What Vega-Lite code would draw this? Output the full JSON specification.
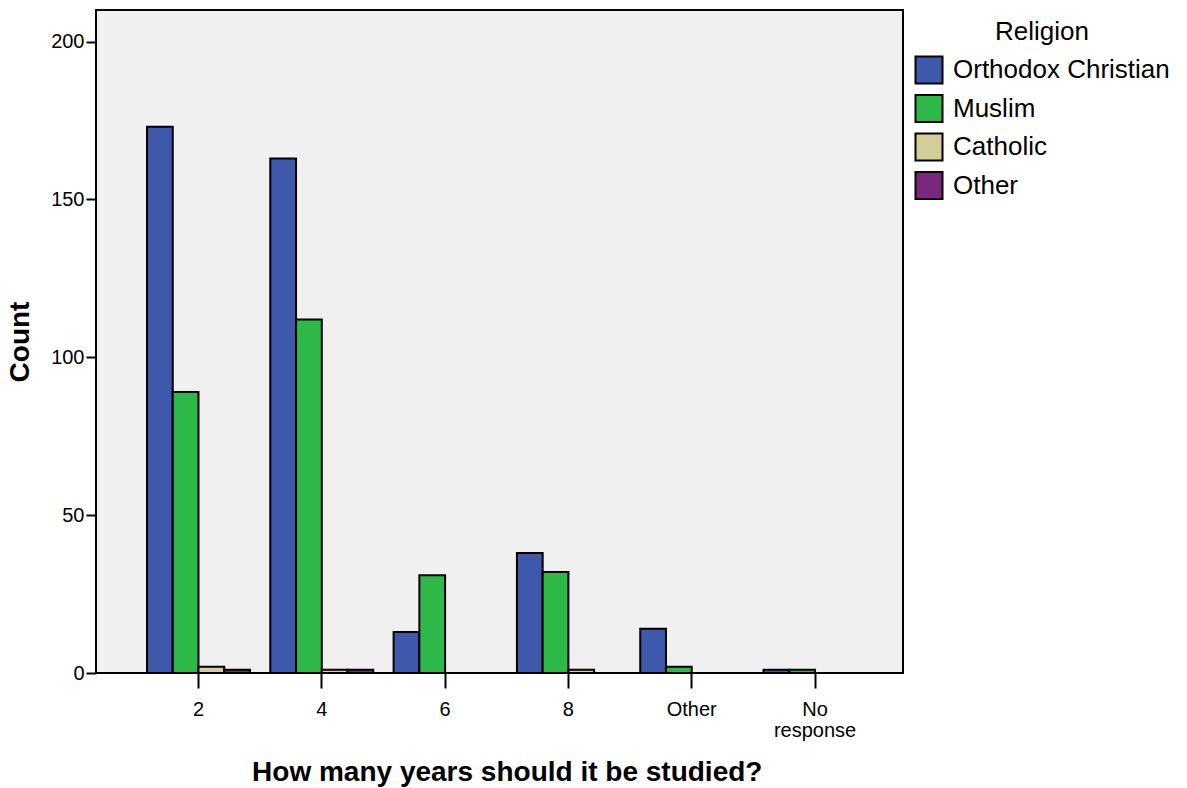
{
  "$schema": "https://vega.github.io/schema/vega-lite/v6.json",
  "width": 807,
  "height": 663,
  "autosize": {"type": "none"},
  "padding": {"left": 96, "top": 10, "right": 284, "bottom": 115},
  "background": "white",
  "config": {
    "font": "Liberation Sans",
    "view": {"fill": "#f0f0f0", "stroke": "black", "strokeWidth": 2}
  },
  "data": {
    "values": [
      {"years": "2", "religion": "Orthodox Christian", "count": 173},
      {"years": "2", "religion": "Muslim", "count": 89},
      {"years": "2", "religion": "Catholic", "count": 2},
      {"years": "2", "religion": "Other", "count": 1},
      {"years": "4", "religion": "Orthodox Christian", "count": 163},
      {"years": "4", "religion": "Muslim", "count": 112},
      {"years": "4", "religion": "Catholic", "count": 1},
      {"years": "4", "religion": "Other", "count": 1},
      {"years": "6", "religion": "Orthodox Christian", "count": 13},
      {"years": "6", "religion": "Muslim", "count": 31},
      {"years": "8", "religion": "Orthodox Christian", "count": 38},
      {"years": "8", "religion": "Muslim", "count": 32},
      {"years": "8", "religion": "Catholic", "count": 1},
      {"years": "Other", "religion": "Orthodox Christian", "count": 14},
      {"years": "Other", "religion": "Muslim", "count": 2},
      {"years": "No response", "religion": "Orthodox Christian", "count": 1},
      {"years": "No response", "religion": "Muslim", "count": 1}
    ]
  },
  "mark": {"type": "bar", "stroke": "black", "strokeWidth": 2, "opacity": 1},
  "encoding": {
    "x": {
      "field": "years",
      "type": "nominal",
      "sort": ["2", "4", "6", "8", "Other", "No response"],
      "scale": {"range": [51, 770.5], "paddingInner": 0.165, "paddingOuter": 0},
      "axis": {
        "title": "How many years should it be studied?",
        "titleFontSize": 28,
        "titleFontWeight": "bold",
        "titleColor": "black",
        "titlePadding": 18,
        "labelAngle": 0,
        "labelFontSize": 20,
        "labelColor": "black",
        "labelPadding": 11,
        "labelLineHeight": 21,
        "labelExpr": "datum.label == 'No response' ? ['No', 'response'] : datum.label",
        "tickSize": 15,
        "tickWidth": 2,
        "tickColor": "black",
        "domain": false
      }
    },
    "xOffset": {
      "field": "religion",
      "type": "nominal",
      "sort": ["Orthodox Christian", "Muslim", "Catholic", "Other"],
      "scale": {"domain": ["Orthodox Christian", "Muslim", "Catholic", "Other"], "paddingInner": 0, "paddingOuter": 0}
    },
    "y": {
      "field": "count",
      "type": "quantitative",
      "scale": {"domain": [0, 210], "nice": false},
      "axis": {
        "title": "Count",
        "titleFontSize": 28,
        "titleFontWeight": "bold",
        "titleColor": "black",
        "titlePadding": 16,
        "values": [0, 50, 100, 150, 200],
        "labelFontSize": 20,
        "labelColor": "black",
        "labelPadding": 2,
        "tickSize": 10,
        "tickWidth": 2,
        "tickColor": "black",
        "grid": false,
        "domain": false
      }
    },
    "color": {
      "field": "religion",
      "type": "nominal",
      "sort": ["Orthodox Christian", "Muslim", "Catholic", "Other"],
      "scale": {
        "domain": ["Orthodox Christian", "Muslim", "Catholic", "Other"],
        "range": ["#3e58ac", "#2eb848", "#d3ce97", "#7a287d"]
      },
      "legend": {
        "title": "Religion",
        "orient": "none",
        "legendX": 818,
        "legendY": 9,
        "titleFontSize": 26,
        "titleFontWeight": "normal",
        "titleColor": "black",
        "titleAnchor": "middle",
        "titlePadding": 10,
        "titleLimit": 400,
        "labelFontSize": 26,
        "labelColor": "black",
        "labelLimit": 400,
        "symbolType": "square",
        "symbolSize": 730,
        "symbolStrokeColor": "black",
        "symbolStrokeWidth": 2,
        "symbolOpacity": 1,
        "rowPadding": 2.5,
        "labelOffset": 9
      }
    }
  }
}
